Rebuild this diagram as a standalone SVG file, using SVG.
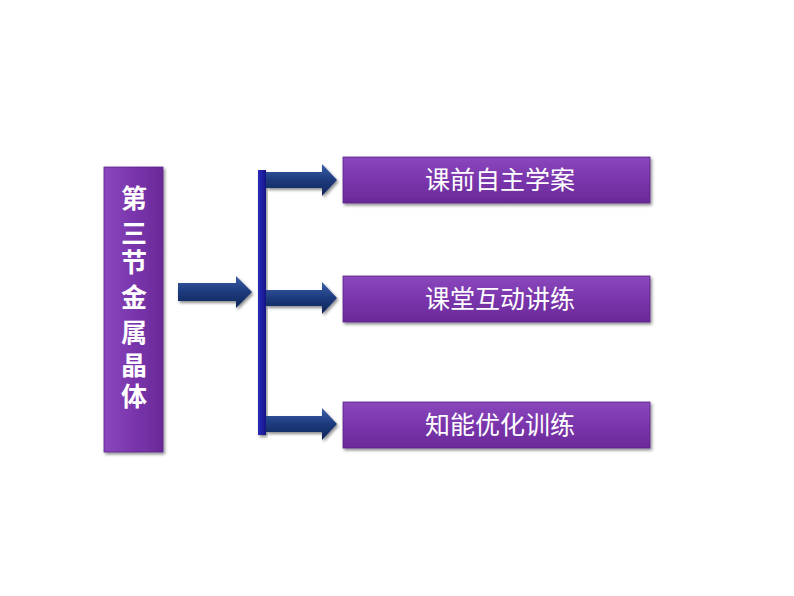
<svg xmlns="http://www.w3.org/2000/svg" width="794" height="596" viewBox="0 0 794 596">
<defs>
<linearGradient id="pg" x1="0" y1="0" x2="0" y2="1">
<stop offset="0" stop-color="#8a48bc"/>
<stop offset="0.5" stop-color="#7a35ac"/>
<stop offset="1" stop-color="#6a2a98"/>
</linearGradient>
<linearGradient id="pgv" x1="0" y1="0" x2="1" y2="0">
<stop offset="0" stop-color="#8a48bc"/>
<stop offset="0.5" stop-color="#7a35ac"/>
<stop offset="1" stop-color="#6a2a98"/>
</linearGradient>
<linearGradient id="ag" x1="0" y1="0" x2="0" y2="1">
<stop offset="0" stop-color="#3a5ea8"/>
<stop offset="0.5" stop-color="#1d3a7c"/>
<stop offset="1" stop-color="#0f2458"/>
</linearGradient>
<linearGradient id="bg" x1="0" y1="0" x2="1" y2="0">
<stop offset="0" stop-color="#2a2ab8"/>
<stop offset="1" stop-color="#15158a"/>
</linearGradient>
<filter id="sh" x="-10%" y="-10%" width="130%" height="140%">
<feDropShadow dx="1.5" dy="2" stdDeviation="1.5" flood-color="#000" flood-opacity="0.45"/>
</filter>
</defs>
<style>
.box{fill:url(#pg);stroke:#5a2288;stroke-width:0.8;filter:url(#sh)}
.vbox{fill:url(#pgv);stroke:#5a2288;stroke-width:0.8;filter:url(#sh)}
.lbl{font-family:"Liberation Sans","Noto Sans CJK SC",sans-serif;font-size:25px;fill:#ffffff;text-anchor:middle}
.vl{font-family:"Liberation Sans","Noto Sans CJK SC",sans-serif;font-size:26px;font-weight:bold;fill:#ffffff;text-anchor:middle}
.arr{fill:url(#ag);filter:url(#sh)}
.bar{fill:url(#bg);filter:url(#sh)}
</style>
<rect width="794" height="596" fill="#ffffff"/>
<g id="node-title">
<rect class="vbox" x="104" y="167" width="59" height="285"/>
<text class="vl" x="134" y="208">第</text>
<text class="vl" x="134" y="243">三</text>
<text class="vl" x="134" y="272">节</text>
<text class="vl" x="134" y="307">金</text>
<text class="vl" x="134" y="342">属</text>
<text class="vl" x="134" y="375">晶</text>
<text class="vl" x="134" y="406">体</text>
</g>
<g id="connectors">
<polygon class="arr" points="178,283 236,283 236,276 252,292 236,308 236,301 178,301"/>
<rect class="bar" x="258" y="170" width="8" height="265"/>
<polygon class="arr" points="266,172 322,172 322,164 337,180 322,196 322,188 266,188"/>
<polygon class="arr" points="266,290 322,290 322,282 337,298 322,314 322,306 266,306"/>
<polygon class="arr" points="266,416 322,416 322,408 337,424 322,440 322,432 266,432"/>
</g>
<g id="node-1">
<rect class="box" x="343" y="157" width="307" height="46"/>
<text class="lbl" x="500" y="189">课前自主学案</text>
</g>
<g id="node-2">
<rect class="box" x="343" y="276" width="307" height="46"/>
<text class="lbl" x="500" y="308">课堂互动讲练</text>
</g>
<g id="node-3">
<rect class="box" x="343" y="402" width="307" height="46"/>
<text class="lbl" x="500" y="434">知能优化训练</text>
</g>
</svg>
